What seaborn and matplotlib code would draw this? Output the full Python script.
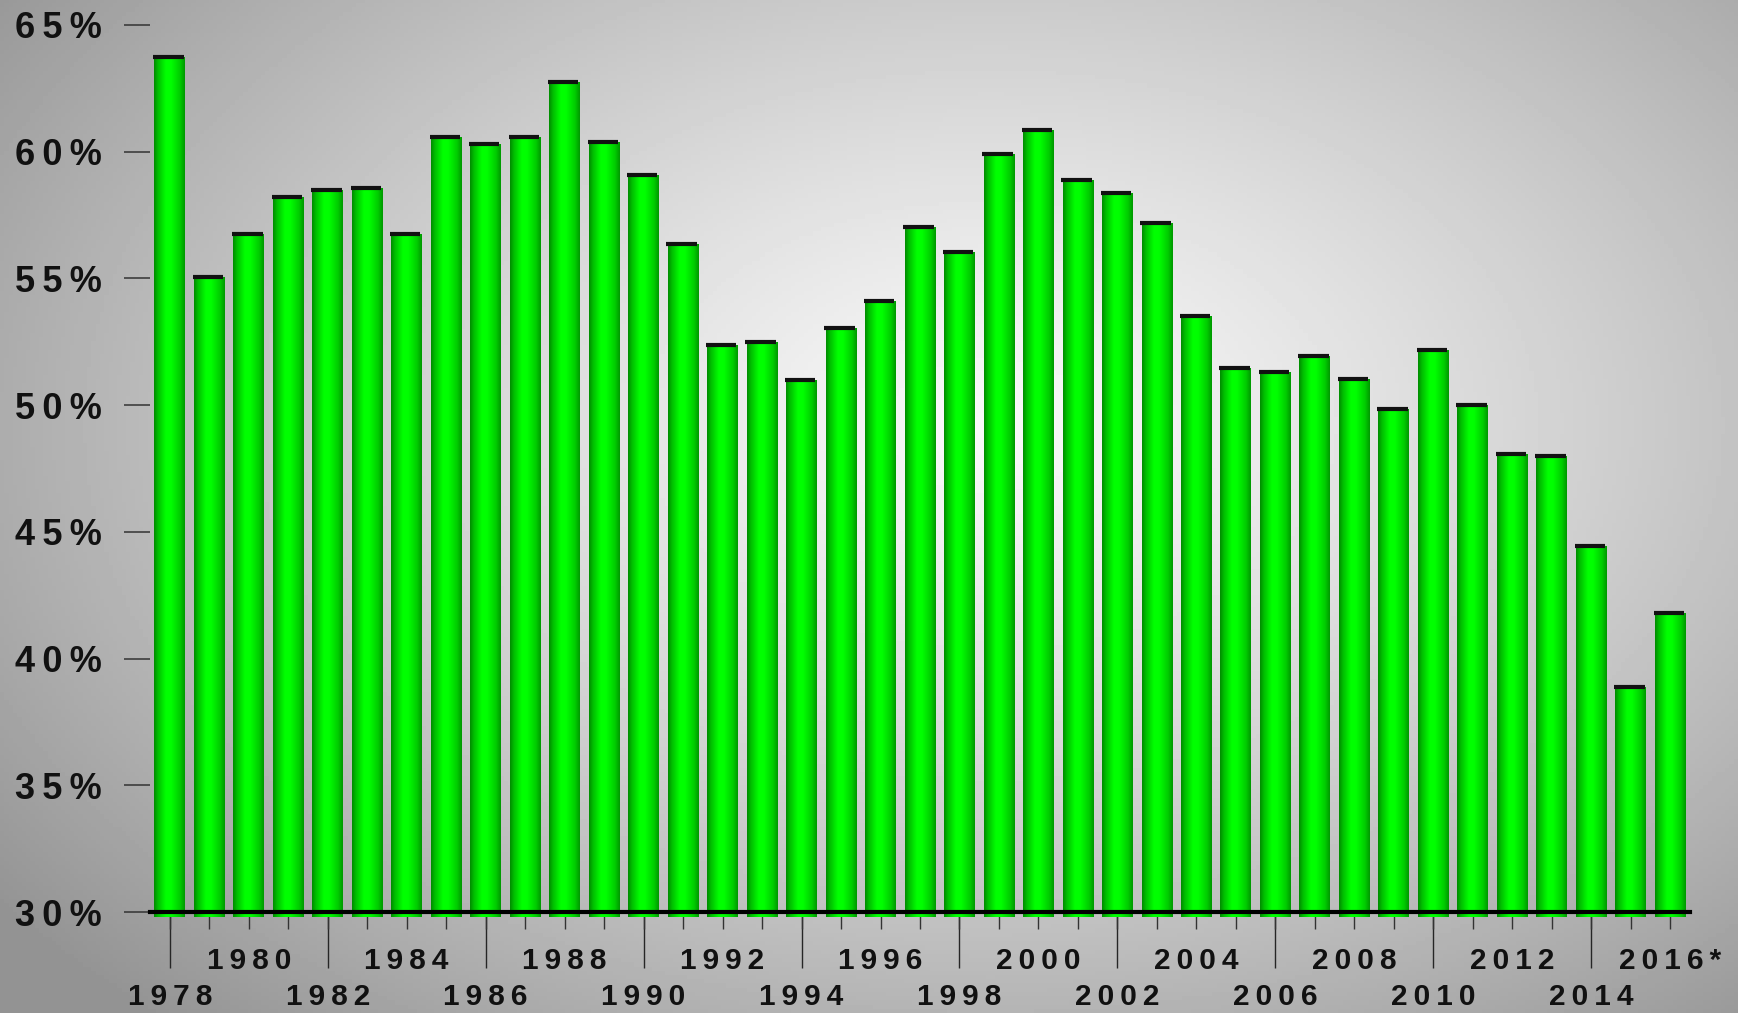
#!/usr/bin/env python3

import numpy as np
import pandas as pd
import matplotlib
matplotlib.use("Agg")
import matplotlib.pyplot as plt
from matplotlib.colors import LinearSegmentedColormap
from matplotlib.transforms import ScaledTranslation
import seaborn as sns

# === Data ===
years = list(range(1978, 2017))
year_labels = [str(y) for y in years[:-1]] + ["2016*"]
values = [63.75, 55.05, 56.75, 58.2, 58.5, 58.55, 56.75, 60.6, 60.3, 60.6,
          62.75, 60.4, 59.07, 56.36, 52.38, 52.5, 50.98, 53.04, 54.09, 57.02,
          56.05, 59.9, 60.87, 58.9, 58.37, 57.19, 53.52, 51.46, 51.29, 51.94,
          51.02, 49.84, 52.16, 50.02, 48.09, 48.0, 44.46, 38.86, 41.79]
y_ticks = [30, 35, 40, 45, 50, 55, 60, 65]

df = pd.DataFrame({"year": year_labels, "value": values})

# === Style ===
sns.set_style("white")
plt.rcParams["font.family"] = ["Liberation Sans", "DejaVu Sans"]
plt.rcParams["font.weight"] = "bold"
GAP = "\u2009"  # letter spacing like the original

W, H = 1738, 1013
fig = plt.figure(figsize=(W / 100, H / 100), dpi=100)

# radial grey background
bg = fig.add_axes([0, 0, 1, 1], zorder=-10)
gx, gy = np.meshgrid(np.linspace(0, 1, 400), np.linspace(0, 1, 240))
d = np.sqrt(((gx - 0.57) / 0.72) ** 2 + ((gy - 0.42) / 0.8) ** 2)
shade = np.clip(0.975 - 0.40 * d ** 1.25, 0.58, 1.0)
bg.imshow(shade, cmap="gray", vmin=0, vmax=1, aspect="auto", extent=[0, 1, 1, 0])
bg.set_axis_off()

ax = fig.add_axes([150 / W, 1 - 912 / H, 1540 / W, 887 / H])
ax.set_facecolor("none")

sns.barplot(data=df, x="year", y="value", color="#00e000", width=0.78,
            saturation=1, linewidth=0, edgecolor="none", ax=ax, zorder=2)

# cylinder-like shading on each bar
green = LinearSegmentedColormap.from_list(
    "cyl", [(0.0, (0, 0.55, 0)), (0.12, (0, 0.74, 0)), (0.38, (0, 1, 0)),
            (0.55, (0, 1, 0)), (0.85, (0, 0.8, 0)), (1.0, (0, 0.6, 0))])
grad = np.linspace(0, 1, 64).reshape(1, -1)
for p in ax.patches:
    x0, w, h = p.get_x(), p.get_width(), p.get_height()
    im = ax.imshow(grad, cmap=green, aspect="auto", extent=[x0, x0 + w, 29.8, h],
                   zorder=2.5)
    im.set_clip_path(p)
    ax.hlines(h, x0 - 0.03, x0 + w - 0.04, color="#111111", lw=3, zorder=3)

ax.set_xlim(-0.5, 38.5)
ax.set_ylim(30, 65)

# y axis
ax.set_yticks(y_ticks)
ax.set_yticklabels([GAP.join(f"{t}%") for t in y_ticks], fontsize=26, fontweight="bold")
ax.tick_params(axis="y", direction="out", length=19, width=1.1, color="#333333", pad=16,
               left=True)

# x axis: minor ticks at every year, long ticks + labels in two rows
ax.xaxis.remove_overlapping_locs = False
ax.set_xticks(range(len(years)), minor=True)
ax.set_xticks(range(0, len(years), 2))
ax.set_xticklabels([GAP.join(year_labels[i]) for i in range(0, len(years), 2)],
                   fontsize=21.5, fontweight="bold")
ax.tick_params(axis="x", which="minor", direction="inout", length=25, width=1,
               color="#333333", bottom=True)
ax.tick_params(axis="x", which="major", direction="out", length=0, pad=25, bottom=True)
ax.tick_params(axis="both", labelcolor="#111111")

shift = ScaledTranslation(0, -36 / 100, fig.dpi_scale_trans)
for i, (tick, lab) in enumerate(zip(ax.xaxis.get_major_ticks(), ax.get_xticklabels())):
    if i % 2 == 0:
        tick.tick1line.set_markersize(40)
        tick.tick1line.set_color("#333333")
        tick.tick1line.set_markeredgewidth(1)
        lab.set_transform(lab.get_transform() + shift)

ax.set_xlabel("")
ax.set_ylabel("")
for s in ["top", "right", "left"]:
    ax.spines[s].set_visible(False)
ax.spines["bottom"].set_color("black")
ax.spines["bottom"].set_linewidth(3)
ax.spines["bottom"].set_zorder(2.7)

fig.savefig("out.png", dpi=100)
